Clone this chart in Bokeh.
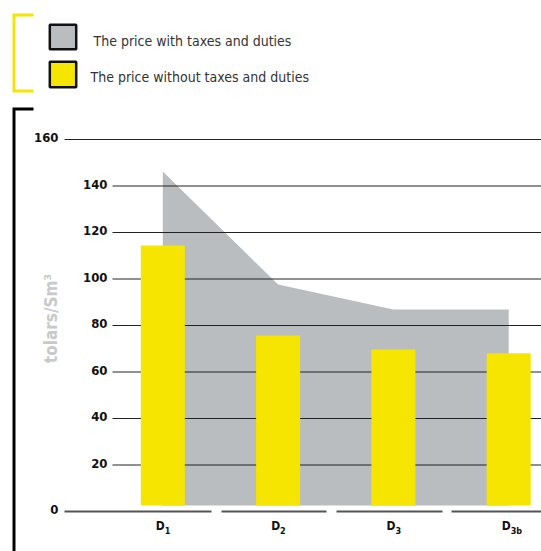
import math
from bokeh.plotting import figure
from bokeh.models import Range1d
from bokeh.core.properties import value
from bokeh.embed import file_html
from bokeh.resources import INLINE

# ---- data ----
categories = ["D", "D", "D", "D"]
subscripts = ["1", "2", "3", "3b"]
price_with_taxes = [146.2, 97.6, 86.9, 86.9]
price_without_taxes = [114.4, 75.7, 69.7, 68.1]
y_ticks = [0, 20, 40, 60, 80, 100, 120, 140, 160]
y_tick_labels = ["0", "20", "40", "60", "80", "100", "120", "140", "160"]
legend_labels = ["The price with taxes and duties", "The price without taxes and duties"]
y_title = "tolars/Sm\u00b3"

GRAY = "#babdc0"
YELLOW = "#f5e500"
FONT = "DejaVu Sans Condensed"

# ---- layout helpers (page pixel -> data) ----
X0, XS = 162.3, 115.3   # pixel position of first category and category spacing
Y0, YS = 511.0, 2.325   # pixel position of value 0 and pixels per unit
OX, OY = 0, 0           # figure origin on the page


def X(px):
    return (px - X0) / XS


def Y(py):
    return (Y0 - py) / YS


W, H = 541, 551
p = figure(width=W, height=H, output_backend="svg", toolbar_location=None,
           x_range=Range1d(X(OX), X(OX + W)), y_range=Range1d(Y(OY + H), Y(OY)),
           min_border=0, outline_line_color=None)
p.axis.visible = False
p.grid.visible = False
p.background_fill_color = "white"

idx = list(range(len(categories)))
base = Y(505)

# gray area (with taxes)
p.varea(x=idx, y1=[base] * len(idx), y2=price_with_taxes, fill_color=GRAY)

# gridlines
for t in y_ticks[1:]:
    start = 64 if t == y_ticks[-1] else 112
    p.segment(x0=X(start), y0=t, x1=X(545), y1=t, line_color="#222222", line_width=1)

# yellow bars (without taxes)
p.vbar(x=idx, top=price_without_taxes, bottom=base, width=44 / XS,
       fill_color=YELLOW, line_color=None)

# baseline segments
for a, b in [(64, 211), (221, 326), (336, 442), (451, 545)]:
    p.segment(x0=X(a), y0=0, x1=X(b), y1=0, line_color="#555555", line_width=2)

# y tick labels
tx = [X(58) if t in (0, 160) else X(107) for t in y_ticks]
p.text(x=tx, y=y_ticks, text=y_tick_labels, text_align="right", text_baseline="middle",
       text_font=value(FONT), text_font_style="bold", text_font_size="13px",
       text_color="#111111", y_offset=-2)

# x category labels
p.text(x=idx, y=[0] * len(idx), text=categories, text_align="right", text_baseline="middle",
       text_font=value(FONT), text_font_style="bold", text_font_size="12px",
       text_color="#111111", x_offset=2, y_offset=14)
p.text(x=idx, y=[0] * len(idx), text=subscripts, text_align="left", text_baseline="middle",
       text_font=value(FONT), text_font_style="bold", text_font_size="9px",
       text_color="#111111", x_offset=2, y_offset=19)

# y axis title
p.text(x=[X(50)], y=[Y(318)], text=[y_title], angle=math.pi / 2, text_align="center",
       text_baseline="middle", text_font=value(FONT), text_font_style="bold",
       text_font_size="17px", text_color="#c8c9ca")

# brackets
p.line(x=[X(33), X(13.5), X(13.5), X(33)], y=[Y(14.5), Y(14.5), Y(90.5), Y(90.5)],
       line_color=YELLOW, line_width=3, line_join="miter")
p.line(x=[X(33), X(13.5), X(13.5)], y=[Y(108.5), Y(108.5), Y(560)],
       line_color="#000000", line_width=3, line_join="miter")

# legend
p.quad(left=[X(49.3)] * 2, right=[X(75.7)] * 2, top=[Y(24.3), Y(61.3)], bottom=[Y(48.7), Y(86.7)],
       fill_color=[GRAY, YELLOW], line_color="#111111", line_width=2.5)
p.text(x=[X(93), X(90)], y=[Y(40), Y(76)], text=legend_labels, text_align="left",
       text_baseline="middle", text_font=value(FONT), text_font_size="14px",
       text_color="#333333")

open("out.html", "w").write(file_html(p, INLINE))
